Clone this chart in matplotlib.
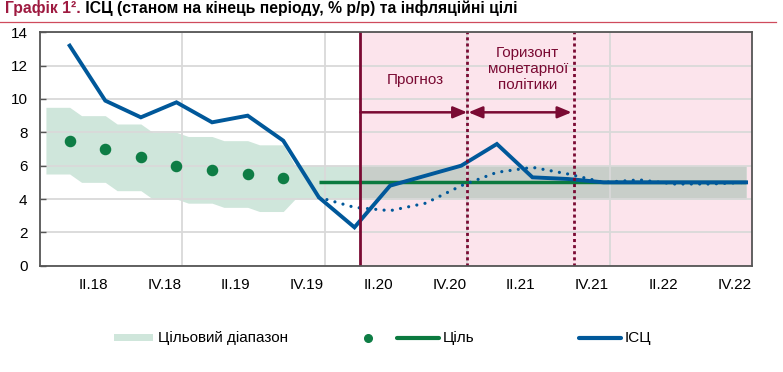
import numpy as np
import matplotlib
matplotlib.use("Agg")
import matplotlib.pyplot as plt
from matplotlib.patches import Rectangle
from matplotlib.lines import Line2D

plt.rcParams['font.family'] = ['Liberation Sans', 'DejaVu Sans']

# ---------------- data ----------------
quarters = ["I.18", "II.18", "III.18", "IV.18", "I.19", "II.19", "III.19", "IV.19",
            "I.20", "II.20", "III.20", "IV.20", "I.21", "II.21", "III.21", "IV.21",
            "I.22", "II.22", "III.22", "IV.22"]
tick_labels = ["II.18", "IV.18", "II.19", "IV.19", "II.20", "IV.20", "II.21", "IV.21", "II.22", "IV.22"]

cpi = [13.2, 9.9, 8.9, 9.8, 8.6, 9.0, 7.5, 4.1, 2.3, 4.8,
       5.4, 6.0, 7.3, 5.3, 5.2, 5.0, 5.0, 5.0, 5.0, 5.0]

# previous forecast (dotted), IV.19 .. IV.22
prev_quarters = quarters[7:]
prev_forecast = [4.1, 3.5, 3.3, 3.75, 4.8, 5.6, 5.9, 5.5, 5.0, 5.15, 4.9, 4.9, 5.0]

# interim targets (dots), I.18 .. III.19
dot_quarters = quarters[:7]
target_points = [7.5, 7.0, 6.5, 6.0, 5.75, 5.5, 5.25]

# medium-term target line, IV.19 .. IV.22
line_quarters = quarters[7:]
target_line = [5.0, 5.0, 5.0, 5.0, 5.0, 5.0, 5.0, 5.0, 5.0, 5.0, 5.0, 5.0, 5.0]

band_upper = [9.5, 9.0, 8.5, 8.0, 7.75, 7.5, 7.25, 6.0, 6.0, 6.0,
              6.0, 6.0, 6.0, 6.0, 6.0, 6.0, 6.0, 6.0, 6.0, 6.0]
band_lower = [5.5, 5.0, 4.5, 4.0, 3.75, 3.5, 3.25, 4.0, 4.0, 4.0,
              4.0, 4.0, 4.0, 4.0, 4.0, 4.0, 4.0, 4.0, 4.0, 4.0]

forecast_start = "II.20"
horizon_start = "I.21"
horizon_end = "IV.21"

# ---------------- geometry helpers (month-based axis) ----------------
qidx = {q: i for i, q in enumerate(quarters)}
def x_end(q):      # mid of last month of quarter
    return 3 * qidx[q] + 2.5
def x_start(q):    # start of quarter
    return 3 * qidx[q]
def x_center(q):
    return 3 * qidx[q] + 1.5

BLUE = "#00589A"
GREEN = "#0B7A3F"
DOTGREEN = "#0E7D45"
BAND = "#CFE6DB"
BAND_PINK = "#C8CEC9"
PINK = "#FCE4EC"
MAROON = "#7A0A33"
GRID = "#D9D9D9"
SPINE = "#555555"

W, H = 783, 372
fig = plt.figure(figsize=(W / 100, H / 100), dpi=100)
ax = fig.add_axes([40 / W, 1 - 265.7 / H, 712 / W, 233.4 / H])
ax.set_xlim(0, 60)
ax.set_ylim(0, 14)

# pink forecast area
pink = ax.axvspan(x_start(forecast_start), 60, color=PINK, zorder=0, lw=0)

# target band (monthly step)
xm = np.arange(3 * len(quarters)) + 0.5
up_m = np.repeat(band_upper, 3)
lo_m = np.repeat(band_lower, 3)
ax.fill_between(xm, lo_m, up_m, color=BAND, lw=0, zorder=1)
gray_band = ax.fill_between(xm, lo_m, up_m, color=BAND_PINK, lw=0, zorder=1.1)
gray_band.set_clip_path(pink)

# grid
ax.set_yticks(np.arange(0, 15, 2))
ax.yaxis.grid(True, color=GRID, lw=1.3, zorder=1.5)
for yr in [12, 24, 36, 48]:
    ax.axvline(yr, color=GRID, lw=1.3, zorder=1.5)
ax.set_axisbelow(False)
for gl in ax.get_ygridlines():
    gl.set_zorder(1.5)

# target line
ax.plot([x_end(q) for q in line_quarters], target_line, color=GREEN, lw=2.5,
        zorder=3, solid_capstyle='butt')
# target dots
ax.plot([x_end(q) for q in dot_quarters], target_points, 'o', color=DOTGREEN,
        ms=7.3, zorder=4)
# previous forecast dotted
ax.plot([x_end(q) for q in prev_quarters], prev_forecast, color=BLUE, lw=2.3,
        linestyle=(0, (0.01, 2.6)), dash_capstyle='round', zorder=4)
# CPI line
ax.plot([x_end(q) for q in quarters], cpi, color=BLUE, lw=2.8, zorder=5,
        solid_joinstyle='miter')

# vertical markers
ax.axvline(x_start(forecast_start), color=MAROON, lw=2.0, zorder=6)
ax.axvline(x_start(horizon_start), color=MAROON, lw=2.0, linestyle=(0, (1.1, 1.1)), zorder=6)
ax.axvline(x_start(horizon_end), color=MAROON, lw=2.0, linestyle=(0, (1.1, 1.1)), zorder=6)

# arrows
ya = 9.2
ax.annotate('', xy=(x_start(horizon_start), ya), xytext=(x_start(forecast_start), ya),
            arrowprops=dict(arrowstyle='-|>,head_length=0.6,head_width=0.25',
                            color=MAROON, lw=1.8, mutation_scale=14,
                            shrinkA=0, shrinkB=0), zorder=7)
ax.annotate('', xy=(x_start(horizon_end) - 0.2, ya), xytext=(x_start(horizon_start) + 0.1, ya),
            arrowprops=dict(arrowstyle='<|-|>,head_length=0.6,head_width=0.25',
                            color=MAROON, lw=1.8, mutation_scale=14,
                            shrinkA=0, shrinkB=0), zorder=7)

ax.text(31.6, 11.15, "Прогноз", color=MAROON, fontsize=11, ha='center', va='center', zorder=7)
ax.text(41.1, 11.8, "Горизонт\nмонетарної\nполітики", color=MAROON, fontsize=11,
        ha='center', va='center', linespacing=1.2, zorder=7)

# axes styling
for s in ax.spines.values():
    s.set_color(SPINE)
    s.set_linewidth(1.3)
    s.set_zorder(8)
ax.tick_params(axis='y', direction='in', length=4, width=1, color=SPINE,
               labelsize=11, pad=9)
ax.set_xticks([x_center(q) for q in tick_labels])
ax.set_xticklabels(tick_labels)
ax.tick_params(axis='x', length=0, labelsize=11, pad=9)

# title
t1 = fig.text(5 / W, 1 - 13.3 / H, "Графік 1².", color="#9E1A40", fontsize=11.3,
              weight='bold', ha='left', va='baseline')
ax.annotate(" ІСЦ (станом на кінець періоду, % р/р) та інфляційні цілі",
            xy=(1, 0), xycoords=t1, ha='left', va='bottom', fontsize=11.3,
            weight='bold', color='black', annotation_clip=False)
fig.add_artist(Line2D([0, 776 / W], [1 - 21.5 / H] * 2, color="#CF4A5C", lw=0.9))

# legend (manual)
ly = 1 - 338 / H
fig.add_artist(Rectangle((114 / W, 1 - 341 / H), 39 / W, 7 / H, color=BAND, lw=0))
fig.text(158 / W, ly, "Цільовий діапазон", fontsize=11, va='center', ha='left')
fig.add_artist(Line2D([368 / W], [ly], marker='o', color=DOTGREEN, ms=5.5, lw=0))
fig.add_artist(Line2D([397 / W, 439 / W], [ly, ly], color=GREEN, lw=3, solid_capstyle='round'))
fig.text(443 / W, ly, "Ціль", fontsize=11, va='center', ha='left')
fig.add_artist(Line2D([579 / W, 621 / W], [ly, ly], color=BLUE, lw=3, solid_capstyle='round'))
fig.text(625 / W, ly, "ІСЦ", fontsize=11, va='center', ha='left')

fig.savefig("out.png", dpi=100)
